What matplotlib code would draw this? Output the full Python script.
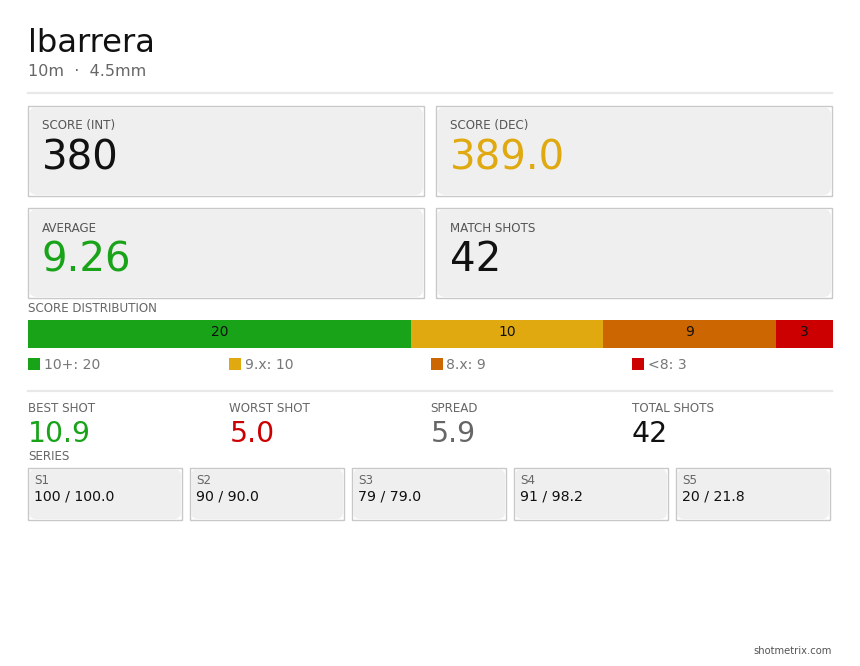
import matplotlib
matplotlib.use("Agg")
import matplotlib.pyplot as plt
from matplotlib.patches import Rectangle, FancyBboxPatch

plt.rcParams["font.family"] = ["DejaVu Sans"]

athlete = "lbarrera"
subtitle = "10m  \u00b7  4.5mm"

card_labels = ["SCORE (INT)", "SCORE (DEC)", "AVERAGE", "MATCH SHOTS"]
card_values = ["380", "389.0", "9.26", "42"]
card_colors = ["#111111", "#dfa90f", "#19a319", "#111111"]

dist_labels = ["10+", "9.x", "8.x", "<8"]
dist_counts = [20, 10, 9, 3]
dist_colors = ["#19a319", "#dfa90f", "#cc6600", "#cc0000"]

stat_labels = ["BEST SHOT", "WORST SHOT", "SPREAD", "TOTAL SHOTS"]
stat_values = ["10.9", "5.0", "5.9", "42"]
stat_colors = ["#19a319", "#cc0000", "#666666", "#111111"]

series_names = ["S1", "S2", "S3", "S4", "S5"]
series_int = [100, 90, 79, 91, 20]
series_dec = [100.0, 90.0, 79.0, 98.2, 21.8]

W, H = 860, 666
fig = plt.figure(figsize=(W / 100, H / 100), dpi=100)
ax = fig.add_axes([0, 0, 1, 1])
ax.set_xlim(0, W)
ax.set_ylim(H, 0)
ax.axis("off")

L, R = 28, 832
GRAY = "#666666"


def card(x, y, w, h, rad=8):
    ax.add_patch(Rectangle((x, y), w, h, facecolor="white", edgecolor="#c8c8c8", lw=1))
    ax.add_patch(FancyBboxPatch((x + 1 + rad, y + 1 + rad), w - 2 - 2 * rad, h - 2 - 2 * rad,
                                boxstyle=f"round,pad={rad}", facecolor="#efefef",
                                edgecolor="none"))


# header
ax.text(L, 44, athlete, fontsize=23.2, color="#111111", va="center", ha="left")
ax.text(L, 72, subtitle, fontsize=11.5, color=GRAY, va="center", ha="left")
ax.plot([L, R], [93, 93], color="#e8e8e8", lw=1.6)

# kpi cards
cw = (R - L - 12) / 2
for i, (lab, val, col) in enumerate(zip(card_labels, card_values, card_colors)):
    x = L + (i % 2) * (cw + 12)
    y = 106 + (i // 2) * 102
    card(x, y, cw, 90)
    ax.text(x + 14, y + 20, lab, fontsize=8.6, color="#555555", va="center")
    ax.text(x + 14, y + 52, val, fontsize=29, color=col, va="center")

# score distribution
ax.text(L, 308, "SCORE DISTRIBUTION", fontsize=8.6, color=GRAY, va="center")
total = sum(dist_counts)
scale = (R + 1 - L) / total
left = L
for lab, n, col in zip(dist_labels, dist_counts, dist_colors):
    ax.barh(334, n * scale, height=28, left=left, color=col, edgecolor="none")
    ax.text(left + n * scale / 2, 332, str(n), fontsize=10, color="#111111",
            ha="center", va="center")
    left += n * scale

step = (R + 1 - L) / 4
for i, (lab, n, col) in enumerate(zip(dist_labels, dist_counts, dist_colors)):
    x = L + i * step
    ax.add_patch(Rectangle((x, 358), 12, 12, facecolor=col, edgecolor="none"))
    ax.text(x + 16, 365, f"{lab}: {n}", fontsize=10.1, color="#777777", va="center")

ax.plot([L, R], [391, 391], color="#e8e8e8", lw=1.6)

# shot stats
for i, (lab, val, col) in enumerate(zip(stat_labels, stat_values, stat_colors)):
    x = L + i * step
    ax.text(x, 408, lab, fontsize=8.6, color=GRAY, va="center")
    ax.text(x, 434, val, fontsize=20.4, color=col, va="center")

# series
ax.text(L, 456, "SERIES", fontsize=8.6, color=GRAY, va="center")
sw, gap = 154, 8
for i, (nm, si, sd) in enumerate(zip(series_names, series_int, series_dec)):
    x = L + i * (sw + gap)
    card(x, 468, sw, 52, rad=7)
    ax.text(x + 6, 480, nm, fontsize=8.6, color=GRAY, va="center")
    ax.text(x + 6, 497, f"{si} / {sd:.1f}", fontsize=10.2, color="#111111", va="center")

ax.text(R, 651, "shotmetrix.com", fontsize=7.2, color="#555555", ha="right", va="center")

fig.savefig("out.png", dpi=100, facecolor="white")
